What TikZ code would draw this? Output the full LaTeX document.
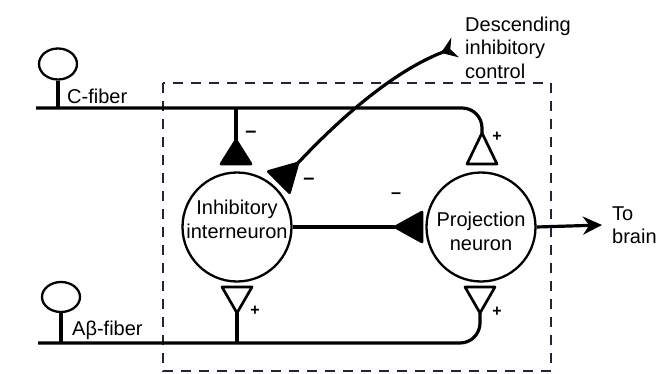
\documentclass[tikz,border=0pt]{standalone}
\usepackage{fontspec}
\setmainfont{Liberation Sans}
\usepackage{tikz}
\usetikzlibrary{arrows.meta,shapes.geometric,positioning}

\definecolor{boxcol}{RGB}{35,35,60}
\tikzset{
  fiber/.style={line width=3.2pt},
  neuron/.style={circle,draw,line width=2.3pt,minimum size=109pt,inner sep=0pt},
  soma/.style={ellipse,draw,line width=2.3pt,minimum width=38pt,minimum height=31pt,inner sep=0pt},
  lbl/.style={font=\fontsize{20}{23.5}\selectfont,inner sep=0pt},
  sign/.style={font=\fontsize{16}{16}\selectfont\bfseries,inner sep=0pt},
  region/.style={draw=boxcol,line width=2.2pt,dash pattern=on 10pt off 8pt},
}
% synapse: apex, direction, fill, length
\newcommand{\synapse}[4]{\draw[line width=2.7pt,line join=round,fill=#3,shift={(#1)},rotate=#2] (0,0) -- (-#4,15) -- (-#4,-15) -- cycle;}

\begin{document}
\begin{tikzpicture}[x=1pt,y=-1pt]
\useasboundingbox (0,0) rectangle (660,374);
\draw[region] (163,83) rectangle (551,371);

\node[neuron,label={[lbl,align=center,yshift=7.5pt]center:Inhibitory\\interneuron}] (inh) at (237,227) {};
\node[neuron,label={[lbl,align=center,yshift=-4.5pt]center:Projection\\neuron}] (proj) at (481,227) {};
\node[soma] (csoma) at (58,64) {};
\node[soma,minimum height=30pt] (asoma) at (61,297) {};
\node[lbl,anchor=base west] (clab) at (67,104) {C-fiber};
\node[lbl,anchor=base west] (alab) at (72,335) {Aβ-fiber};
\node[lbl,anchor=west,align=left] (brain) at (612,225) {To\\brain};
\node[lbl,anchor=west,align=left] (desc) at (465,47.5) {Descending\\inhibitory\\control};

% fibres
\coordinate (cstart) at (36,108);
\coordinate (astart) at (38,343);
\coordinate (csyn) at (482,133);
\coordinate (asyn) at (480,313);
\coordinate (isyn1) at (236,140);
\coordinate (isyn2) at (237,313);
\coordinate (psyn) at (395,227);
\coordinate (dsyn) at (298,163);
\draw[fiber,rounded corners=20pt] (cstart) -| (csyn);
\draw[fiber,rounded corners=20pt] (astart) -| (asyn);
\draw[fiber] (csoma.south) -- (csoma.south |- cstart);
\draw[fiber] (asoma.south) -- (asoma.south |- astart);
\draw[fiber] (isyn1 |- cstart) -- (isyn1);
\draw[fiber] (isyn2 |- astart) -- (isyn2);
\draw[fiber] (inh.east) -- (psyn);
\draw[fiber,-{Stealth[length=19pt,width=18pt]}] (proj.east) -- ([xshift=-10pt]brain.west);
\draw[fiber,-{Stealth[reversed,length=15pt,width=21pt,inset=5pt]}] (dsyn) .. controls (343,115) and (396,70) .. ([xshift=-10pt]desc.west);

% synapses
\synapse{isyn1}{90}{black}{24}
\synapse{csyn}{90}{white}{31}
\synapse{isyn2}{-90}{white}{26}
\synapse{asyn}{-90}{white}{26}
\synapse{psyn}{180}{black}{27}
\synapse{dsyn}{45}{black}{27}

\node[sign,font=\fontsize{20}{20}\selectfont\bfseries] at (251,134) {--};
\node[sign,font=\fontsize{20}{20}\selectfont\bfseries] at (309,181) {--};
\node[sign,font=\fontsize{18}{18}\selectfont\bfseries] at (396,196) {--};
\node[sign] at (497,137) {+};
\node[sign] at (497,312) {+};
\node[sign] at (255,311) {+};
\end{tikzpicture}
\end{document}
